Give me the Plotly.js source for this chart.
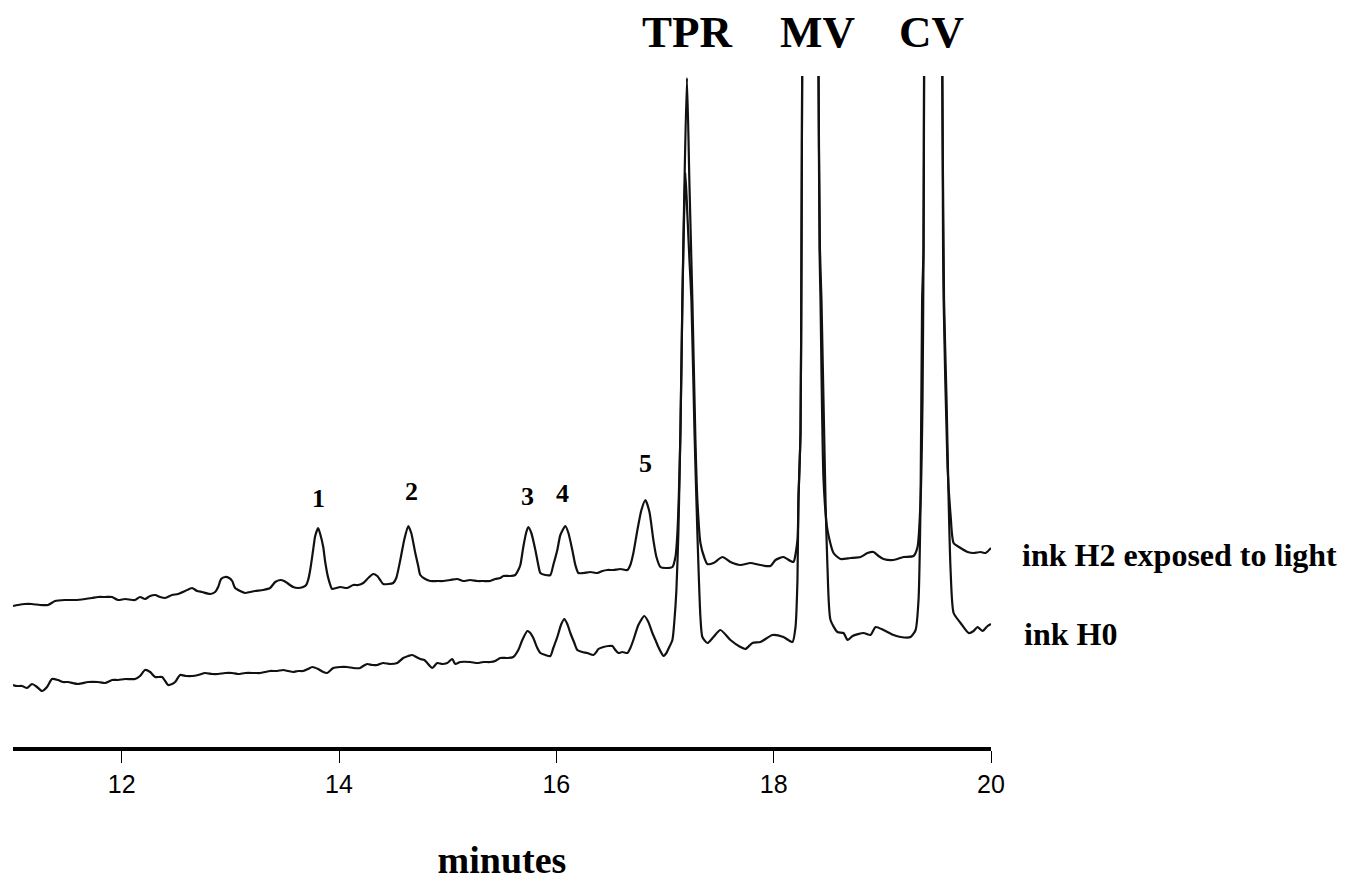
<!DOCTYPE html>
<html>
<head>
<meta charset="utf-8">
<script src="https://cdn.plot.ly/plotly-3.0.1.min.js"></script>
<style>
  html, body { margin: 0; padding: 0; background: #ffffff; }
  #chart { width: 1351px; height: 881px; }
</style>
</head>
<body>
<div id="chart"></div>
<script>
// Retention time (minutes) and detector signal (arbitrary units)
var h2Time = [11.000, 11.046, 11.110, 11.172, 11.249, 11.322, 11.387, 11.479, 11.571, 11.663,
  11.727, 11.783, 11.847, 11.912, 11.967, 12.031, 12.123, 12.169, 12.215, 12.262,
  12.308, 12.354, 12.400, 12.464, 12.519, 12.584, 12.648, 12.694, 12.740, 12.814,
  12.860, 12.888, 12.915, 12.952, 12.989, 13.017, 13.044, 13.090, 13.136, 13.182,
  13.228, 13.302, 13.366, 13.413, 13.459, 13.495, 13.523, 13.578, 13.624, 13.670,
  13.698, 13.716, 13.735, 13.762, 13.781, 13.808, 13.827, 13.855, 13.873, 13.901,
  13.937, 13.974, 14.011, 14.076, 14.131, 14.177, 14.223, 14.269, 14.315, 14.352,
  14.379, 14.407, 14.453, 14.499, 14.527, 14.564, 14.600, 14.637, 14.665, 14.702,
  14.729, 14.748, 14.794, 14.840, 14.904, 14.959, 15.024, 15.088, 15.144, 15.208,
  15.273, 15.328, 15.392, 15.438, 15.484, 15.512, 15.576, 15.622, 15.650, 15.669,
  15.696, 15.724, 15.742, 15.770, 15.807, 15.834, 15.853, 15.899, 15.945, 15.972,
  16.009, 16.037, 16.083, 16.111, 16.147, 16.175, 16.203, 16.249, 16.313, 16.378,
  16.424, 16.470, 16.525, 16.589, 16.654, 16.681, 16.709, 16.746, 16.783, 16.820,
  16.857, 16.893, 16.921, 16.958, 17.004, 17.068, 17.096, 17.114, 17.142, 17.160,
  17.179, 17.202, 17.225, 17.252, 17.280, 17.298, 17.326, 17.363, 17.390, 17.446,
  17.529, 17.602, 17.694, 17.786, 17.878, 17.971, 18.017, 18.090, 18.155, 18.182,
  18.219, 18.228, 18.247, 18.256, 18.262, 18.339, 18.413, 18.422, 18.431, 18.459,
  18.495, 18.551, 18.615, 18.707, 18.799, 18.864, 18.919, 18.965, 19.011, 19.103,
  19.195, 19.287, 19.324, 19.352, 19.370, 19.379, 19.384, 19.462, 19.552, 19.559,
  19.564, 19.600, 19.628, 19.656, 19.720, 19.785, 19.840, 19.904, 19.950, 20.000];

var h2Signal = [14.1, 14.2, 14.3, 14.3, 14.2, 14.2, 14.6, 14.7, 14.7, 14.8,
  14.9, 15.0, 15.0, 15.0, 14.7, 14.8, 14.7, 15.0, 14.8, 15.1,
  15.2, 15.0, 14.9, 15.2, 15.3, 15.6, 15.9, 15.6, 15.5, 15.3,
  15.5, 16.0, 16.8, 17.0, 16.9, 16.6, 15.9, 15.6, 15.4, 15.5,
  15.6, 15.7, 15.9, 16.5, 16.7, 16.6, 16.4, 16.0, 15.9, 16.0,
  16.2, 16.7, 17.7, 19.7, 21.1, 21.9, 21.3, 20.0, 18.5, 16.9,
  15.8, 15.9, 16.0, 15.9, 16.2, 16.2, 16.4, 16.9, 17.3, 17.1,
  16.7, 16.3, 16.3, 16.4, 16.9, 18.7, 20.7, 22.1, 21.4, 19.4,
  18.1, 17.2, 16.8, 16.6, 16.6, 16.6, 16.7, 16.8, 16.6, 16.7,
  16.6, 16.6, 16.6, 16.8, 16.9, 17.1, 17.1, 17.2, 17.7, 18.2,
  20.0, 21.5, 22.0, 21.4, 19.7, 18.2, 17.4, 17.2, 17.2, 18.2,
  19.7, 21.2, 22.1, 21.4, 19.7, 18.2, 17.4, 17.4, 17.5, 17.4,
  17.6, 17.7, 17.7, 17.8, 17.7, 18.2, 19.4, 21.7, 23.7, 24.7,
  23.5, 20.7, 19.0, 18.0, 17.9, 18.0, 19.0, 21.4, 31.4, 44.7,
  56.2, 66.9, 56.2, 44.7, 30.7, 24.7, 20.4, 18.9, 18.3, 18.4,
  19.0, 18.5, 18.2, 18.4, 18.2, 18.1, 18.7, 19.0, 18.6, 18.5,
  20.7, 24.7, 31.4, 49.7, 66.9, 250.0, 66.9, 49.7, 44.7, 26.7,
  21.7, 19.4, 18.8, 18.9, 19.0, 19.4, 19.5, 19.1, 18.8, 18.7,
  19.0, 19.1, 20.0, 24.7, 34.7, 49.7, 66.9, 250.0, 66.9, 49.7,
  44.7, 28.0, 23.2, 20.4, 19.9, 19.5, 19.4, 19.5, 19.4, 19.9];

var h0Time = [11.000, 11.037, 11.083, 11.129, 11.175, 11.221, 11.267, 11.313, 11.359, 11.414,
  11.460, 11.506, 11.599, 11.691, 11.783, 11.847, 11.912, 11.967, 12.031, 12.123,
  12.169, 12.215, 12.262, 12.308, 12.372, 12.400, 12.427, 12.464, 12.492, 12.538,
  12.593, 12.648, 12.704, 12.768, 12.832, 12.888, 12.952, 13.017, 13.072, 13.136,
  13.228, 13.274, 13.320, 13.366, 13.431, 13.486, 13.532, 13.578, 13.624, 13.670,
  13.716, 13.753, 13.808, 13.855, 13.891, 13.947, 14.011, 14.076, 14.131, 14.195,
  14.223, 14.260, 14.306, 14.352, 14.407, 14.471, 14.536, 14.591, 14.637, 14.674,
  14.711, 14.748, 14.785, 14.812, 14.858, 14.904, 14.950, 14.996, 15.042, 15.070,
  15.116, 15.208, 15.273, 15.328, 15.392, 15.438, 15.484, 15.549, 15.604, 15.650,
  15.687, 15.733, 15.761, 15.788, 15.825, 15.853, 15.899, 15.945, 15.972, 16.009,
  16.046, 16.074, 16.101, 16.129, 16.166, 16.193, 16.239, 16.285, 16.341, 16.368,
  16.387, 16.433, 16.479, 16.516, 16.543, 16.571, 16.608, 16.654, 16.681, 16.709,
  16.755, 16.810, 16.847, 16.884, 16.912, 16.939, 16.967, 16.985, 17.013, 17.031,
  17.068, 17.087, 17.105, 17.123, 17.142, 17.160, 17.179, 17.188, 17.206, 17.225,
  17.243, 17.271, 17.298, 17.326, 17.344, 17.390, 17.446, 17.510, 17.602, 17.694,
  17.740, 17.805, 17.878, 17.989, 18.090, 18.173, 18.201, 18.219, 18.228, 18.247,
  18.256, 18.262, 18.339, 18.413, 18.426, 18.440, 18.477, 18.495, 18.523, 18.587,
  18.643, 18.680, 18.726, 18.827, 18.891, 18.938, 19.011, 19.103, 19.168, 19.260,
  19.306, 19.333, 19.352, 19.366, 19.379, 19.384, 19.462, 19.552, 19.568, 19.591,
  19.610, 19.628, 19.656, 19.720, 19.794, 19.840, 19.876, 19.923, 19.969, 20.000];

var h0Signal = [6.2, 6.1, 6.1, 5.9, 6.3, 6.0, 5.6, 6.0, 6.8, 6.7,
  6.5, 6.5, 6.3, 6.5, 6.5, 6.4, 6.7, 6.7, 6.8, 6.8,
  7.1, 7.7, 7.5, 7.0, 7.0, 6.6, 6.2, 6.3, 6.5, 7.2,
  7.1, 7.1, 7.2, 7.4, 7.3, 7.3, 7.4, 7.4, 7.3, 7.4,
  7.4, 7.4, 7.5, 7.6, 7.6, 7.7, 7.6, 7.5, 7.6, 7.6,
  7.8, 8.0, 7.8, 7.5, 7.4, 7.9, 8.0, 8.0, 7.9, 7.9,
  8.1, 8.3, 8.2, 8.2, 8.4, 8.3, 8.4, 8.9, 9.1, 9.2,
  9.0, 8.8, 8.7, 8.4, 7.9, 8.4, 8.3, 8.4, 8.8, 8.3,
  8.5, 8.5, 8.4, 8.5, 8.5, 8.6, 8.9, 8.9, 9.0, 9.7,
  10.7, 11.6, 11.4, 10.9, 9.9, 9.4, 9.2, 9.1, 9.9, 11.0,
  12.3, 12.8, 12.3, 11.4, 10.4, 9.7, 9.5, 9.4, 9.2, 9.5,
  9.8, 10.0, 10.1, 10.1, 9.7, 9.4, 9.5, 9.4, 9.9, 10.7,
  12.2, 13.1, 12.5, 11.4, 10.7, 10.0, 9.4, 9.1, 9.4, 9.8,
  10.7, 12.7, 15.7, 21.4, 31.7, 44.7, 54.7, 57.4, 53.2, 48.7,
  44.7, 31.7, 21.4, 13.0, 11.0, 10.4, 11.0, 11.7, 10.7, 10.0,
  9.8, 10.4, 10.5, 11.2, 11.0, 10.5, 12.0, 16.7, 24.7, 31.4,
  49.7, 66.9, 250.0, 66.9, 49.7, 44.7, 24.7, 18.0, 12.7, 11.5,
  11.4, 10.7, 11.1, 11.4, 11.2, 12.0, 11.7, 11.2, 11.0, 11.0,
  11.7, 14.7, 24.7, 44.7, 49.7, 66.9, 250.0, 66.9, 44.7, 34.7,
  24.7, 17.7, 13.4, 12.4, 11.4, 11.6, 12.0, 11.6, 12.1, 12.3];

var traceNames = ['ink H2 exposed to light', 'ink H0'];
var peakNames = ['1', '2', '3', '4', '5'];
var peakTimes = [13.81, 14.665, 15.733, 16.055, 16.82];
var compoundNames = ['TPR', 'MV', 'CV'];
var compoundTimes = [17.206, 18.401, 19.453];
var tickValues = [12, 14, 16, 18, 20];
var tickLabels = ['12', '14', '16', '18', '20'];
var axisTitle = 'minutes';

var serif = 'Liberation Serif, Times New Roman, serif';
var lineStyle = {color: '#111111', width: 2.2, shape: 'spline', smoothing: 0.6};

var traces = [
  {x: h2Time, y: h2Signal, type: 'scatter', mode: 'lines', name: traceNames[0],
   line: lineStyle, hoverinfo: 'x+y'},
  {x: h0Time, y: h0Signal, type: 'scatter', mode: 'lines', name: traceNames[1],
   line: lineStyle, hoverinfo: 'x+y'}
];

var peakLabelY = [24.9, 25.6, 25.1, 25.4, 28.4];
var annotations = [];
peakNames.forEach(function (n, i) {
  annotations.push({x: peakTimes[i], y: peakLabelY[i], xref: 'x', yref: 'y',
    text: '<b>' + n + '</b>', showarrow: false, xanchor: 'center', yanchor: 'middle',
    font: {family: serif, size: 26, color: '#000'}});
});
compoundNames.forEach(function (n, i) {
  annotations.push({x: compoundTimes[i], y: 1.0656, xref: 'x', yref: 'paper',
    text: '<b>' + n + '</b>', showarrow: false, xanchor: 'center', yanchor: 'middle',
    font: {family: serif, size: 45, color: '#000'}});
});
annotations.push({x: 1.0297, y: 0.286, xref: 'paper', yref: 'paper',
  text: '<b>' + traceNames[0] + '</b>', showarrow: false, xanchor: 'left', yanchor: 'middle',
  font: {family: serif, size: 32, color: '#000'}});
annotations.push({x: 1.0317, y: 0.168, xref: 'paper', yref: 'paper',
  text: '<b>' + traceNames[1] + '</b>', showarrow: false, xanchor: 'left', yanchor: 'middle',
  font: {family: serif, size: 32, color: '#000'}});

var layout = {
  width: 1351, height: 881,
  margin: {l: 13, r: 360, t: 76, b: 134, pad: 0},
  paper_bgcolor: '#ffffff', plot_bgcolor: '#ffffff',
  showlegend: false,
  xaxis: {
    range: [11, 20], showgrid: false, zeroline: false,
    showline: true, linecolor: '#000', linewidth: 4,
    ticks: 'outside', ticklen: 12, tickwidth: 1, tickcolor: '#000',
    tickvals: tickValues, ticktext: tickLabels,
    tickfont: {family: 'Liberation Sans, Arial, sans-serif', size: 25, color: '#000'},
    title: {text: '<b>' + axisTitle + '</b>', standoff: 55,
      font: {family: serif, size: 38, color: '#000'}},
    automargin: false, fixedrange: true
  },
  yaxis: {range: [0, 67.1], visible: false, showgrid: false, zeroline: false, fixedrange: true},
  annotations: annotations
};

Plotly.newPlot('chart', traces, layout, {displayModeBar: false, staticPlot: true});
</script>
</body>
</html>
